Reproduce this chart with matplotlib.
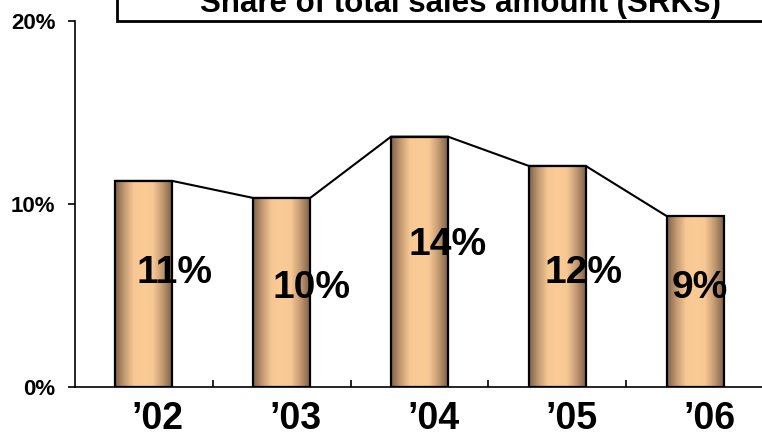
import numpy as np
import matplotlib
matplotlib.use("Agg")
import matplotlib.pyplot as plt
import matplotlib.transforms as mtransforms
from matplotlib.colors import LinearSegmentedColormap
from matplotlib.patches import Rectangle

plt.rcParams["font.family"] = ["Liberation Sans", "DejaVu Sans"]
plt.rcParams["font.weight"] = "bold"

years = ["\u201902", "\u201903", "\u201904", "\u201905", "\u201906"]
share = [11.26, 10.33, 13.68, 12.08, 9.34]
title = "Share of total sales amount (SRKs)"

# where each value label sits: x offset from bar centre, y in data units
label_dx = [0.225, 0.217, 0.203, 0.188, 0.036]
label_y = [6.23, 5.41, 7.76, 6.23, 5.41]

bar_w = 0.413
shade = LinearSegmentedColormap.from_list(
    "copper_bar", ["#7e6149", "#c49a72", "#f7c894", "#fccb95", "#f7c894", "#c49a72", "#7e6149"])

fig = plt.figure(figsize=(7.62, 4.40), dpi=100)
ax = fig.add_axes([75 / 762, 53 / 440, 689 / 762, 366 / 440])

grad = np.linspace(0, 1, 256).reshape(1, -1)
x = np.arange(len(share))
for i, v in zip(x, share):
    ax.imshow(grad, cmap=shade, extent=[i - bar_w / 2, i + bar_w / 2, 0, v],
              aspect="auto", zorder=2, interpolation="bilinear")
    ax.add_patch(Rectangle((i - bar_w / 2, 0), bar_w, v, facecolor="none",
                           edgecolor="black", linewidth=1.6, zorder=3))

# series line joining the tops of the bars
lx, ly = [], []
for i, v in zip(x, share):
    lx += [i - bar_w / 2, i + bar_w / 2]
    ly += [v, v]
ax.plot(lx, ly, color="black", linewidth=1.5, zorder=1)

for i, v in enumerate(share):
    ax.text(i + label_dx[i], label_y[i], f"{v:.0f}%", ha="center", va="center",
            fontsize=28, fontweight="bold", zorder=4)

ax.set_xlim(-0.5, len(share) - 0.5)
ax.set_ylim(0, 20)
ax.set_yticks([0, 10, 20])
ax.set_yticklabels(["0%", "10%", "20%"], fontsize=16, fontweight="bold")
ax.tick_params(axis="y", direction="out", length=5, width=1.2, pad=9)

ax.set_xticks(x)
ax.set_xticklabels(years, fontsize=27, fontweight="bold")
ax.set_xticks(np.arange(0.5, len(share) - 0.5, 1), minor=True)
ax.tick_params(axis="x", which="major", length=0, pad=10)
ax.tick_params(axis="x", which="minor", direction="in", length=5, width=1.2)
# year labels sit a little right of the bar centres
shift = mtransforms.ScaledTranslation(14 / 100, 0, fig.dpi_scale_trans)
for lab in ax.get_xticklabels():
    lab.set_transform(lab.get_transform() + shift)

for s in ["top", "right"]:
    ax.spines[s].set_visible(False)
ax.spines["left"].set_linewidth(1.2)
ax.spines["bottom"].set_linewidth(1.2)

# title box running off the top and right edges
fig.patches.append(Rectangle((117 / 762, 419 / 440), 0.9, 0.2, transform=fig.transFigure,
                             facecolor="white", edgecolor="black", linewidth=2.0))
fig.text(460 / 762, 428 / 440, title, ha="center", va="baseline",
         fontsize=22.5, fontweight="bold")

fig.savefig("out.png", dpi=100)
